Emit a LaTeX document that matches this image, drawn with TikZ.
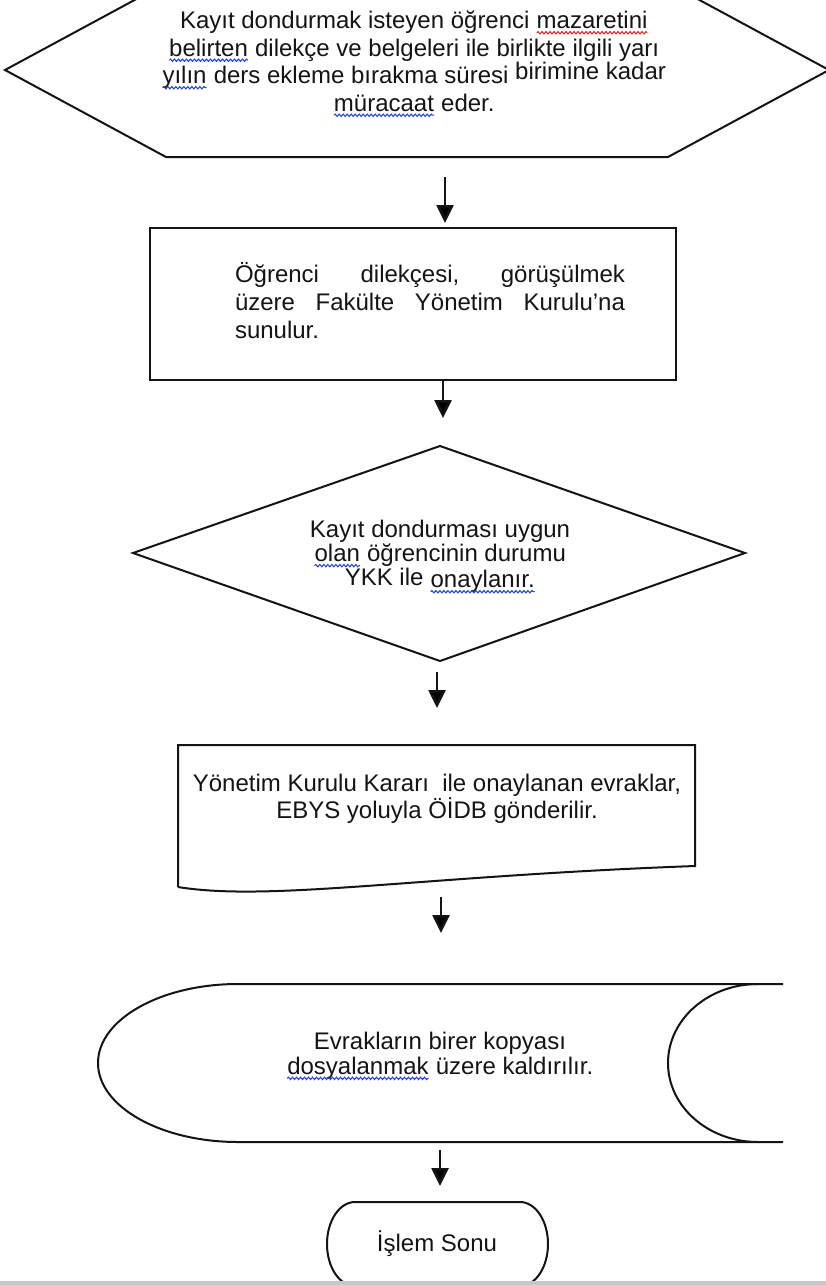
\documentclass[tikz,border=0pt]{standalone}
\usepackage{fontspec}
\setmainfont{Liberation Sans}
\usetikzlibrary{arrows.meta,decorations.pathmorphing}
\definecolor{ink}{HTML}{141414}
\definecolor{wred}{HTML}{D02020}
\definecolor{wblue}{HTML}{2040D0}
\newcommand\wv[2]{\tikz[baseline=(w.base),x=1pt,y=1pt]{\node[inner sep=0pt,outer sep=0pt,anchor=base,text=ink,text width=,align=none] (w) {#2};\draw[#1,line width=1pt,decorate,decoration={snake,amplitude=1.2pt,segment length=4pt}] ([yshift=-4pt]w.base west) -- ([yshift=-4pt]w.base east);}}
\tikzset{
  shp/.style={draw=ink, line width=2pt, line join=miter},
  arr/.style={draw=ink, line width=2.6pt, -{Triangle[width=17pt,length=18pt]}},
  txt/.style={text=ink, align=center, inner sep=0pt},
}
\begin{document}
\begin{tikzpicture}[x=1pt,y=-1pt]
\useasboundingbox (0,0) rectangle (826,1285);
\clip (0,0) rectangle (826,1285);
\fill[white] (0,0) rectangle (826,1285);
% hexagon
\draw[shp] (5,70) -- (166,-17) -- (668,-17) -- (829,70) -- (668,157) -- (166,157) -- cycle;
\node[txt, font=\fontsize{24}{27.5}\selectfont] (hex) at (414,64) {Kayıt dondurmak isteyen öğrenci \wv{wred}{mazaretini}\\ \wv{wblue}{belirten} dilekçe ve belgeleri ile birlikte ilgili yarı\\ \wv{wblue}{yılın} ders ekleme bırakma süresi \raisebox{4pt}{birimine kadar}\\ \wv{wblue}{müracaat} eder.};
% rectangle
\draw[shp] (150,228) rectangle (676,380);
\node[txt, align=left, text width=390pt, font=\fontsize{24}{28}\selectfont] (rect) at (430,301) {\leavevmode\hbox to 390pt{Öğrenci\hfill dilekçesi,\hfill görüşülmek}\\ \leavevmode\hbox to 390pt{üzere\hfill Fakülte\hfill Yönetim\hfill Kurulu’na}\\ sunulur.};
% diamond
\draw[shp] (440,446) -- (745,553) -- (440,661) -- (133,553) -- cycle;
\node[txt, font=\fontsize{24}{21.5}\selectfont] (dec) at (440,557) {Kayıt dondurması uygun\\ \wv{wblue}{olan} öğrencinin durumu\\ YKK ile \raisebox{-2pt}{\wv{wblue}{onaylanır.}}};
% document
\draw[shp] (178,887) -- (178,745) -- (695,745) -- (695,866) .. controls (420,876) and (270,902) .. (178,887);
\node[txt, font=\fontsize{24}{24}\selectfont] (doc) at (437,799) {Yönetim Kurulu Kararı\ \ ile onaylanan evraklar,\\ EBYS yoluyla ÖİDB gönderilir.};
% stored data
\draw[shp] (783,984) -- (238,984) .. controls (160.7,984) and (98,1019.4) .. (98,1063) .. controls (98,1106.6) and (160.7,1142) .. (238,1142) -- (783,1142);
\draw[shp] (758,984) .. controls (708.3,984) and (668,1019.4) .. (668,1063) .. controls (668,1106.6) and (708.3,1142) .. (758,1142);
\node[txt, font=\fontsize{24}{25}\selectfont] (store) at (440,1056) {Evrakların birer kopyası\\ \wv{wblue}{dosyalanmak} üzere kaldırılır.};
% terminal
\draw[shp] (355,1202) -- (520,1202) .. controls (535.5,1202) and (548,1220.8) .. (548,1244) .. controls (548,1267.2) and (535.5,1286) .. (520,1286) -- (355,1286) .. controls (339.5,1286) and (327,1267.2) .. (327,1244) .. controls (327,1220.8) and (339.5,1202) .. (355,1202) -- cycle;
\node[txt, font=\fontsize{24}{24}\selectfont] (term) at (437,1244) {İşlem Sonu};
\fill[black!22] (0,1281) rectangle (826,1285);
% connector end points
\coordinate (hexS) at (445,157);
\coordinate (rectN) at (445,228);
\coordinate (rectS) at (443,380);
\coordinate (decN) at (443,446);
\coordinate (decS) at (437,661);
\coordinate (docN) at (437,745);
\coordinate (docS) at (441,880);
\coordinate (storeN) at (441,984);
\coordinate (storeS) at (440,1142);
\coordinate (termN) at (440,1202);
\draw[arr, shorten <=20pt, shorten >=5pt] (hexS) -- (rectN);
\draw[arr, shorten >=28pt] (rectS) -- (decN);
\draw[arr, shorten <=11pt, shorten >=37pt] (decS) -- (docN);
\draw[arr, shorten <=17pt, shorten >=51pt] (docS) -- (storeN);
\draw[arr, shorten <=8pt, shorten >=16pt] (storeS) -- (termN);
\end{tikzpicture}
\end{document}
